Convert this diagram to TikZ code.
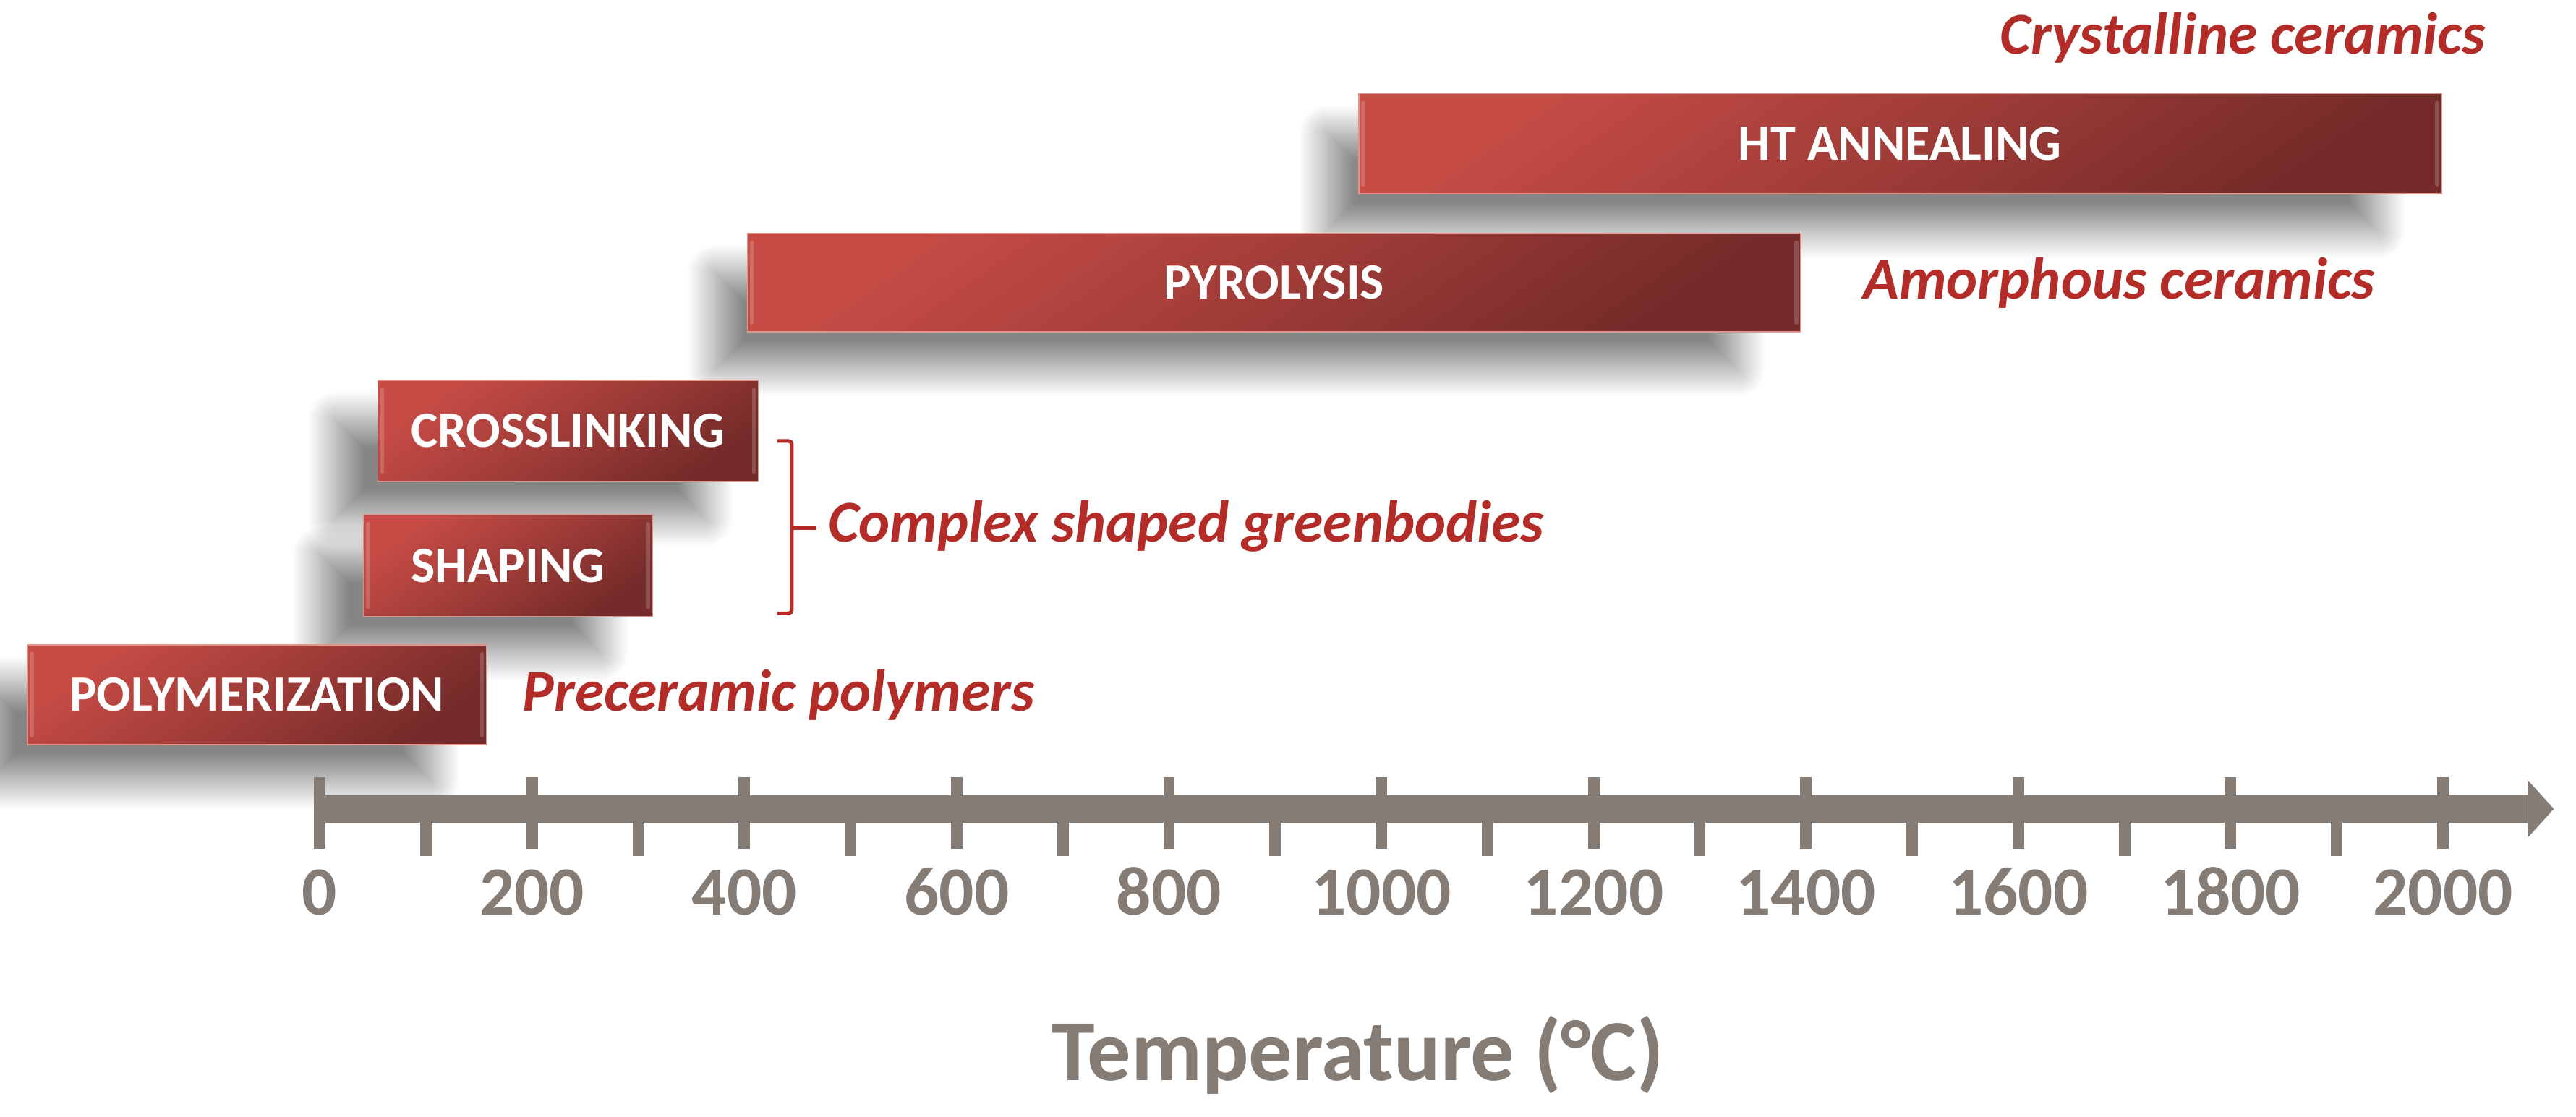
\documentclass[tikz,border=0pt]{standalone}
\usepackage{fontspec}
\setmainfont{Carlito}
\usetikzlibrary{shadows.blur}
\definecolor{boxlight}{RGB}{200,76,70}
\definecolor{boxmid}{RGB}{160,60,56}
\definecolor{boxdark}{RGB}{116,43,41}
\definecolor{boxedge}{RGB}{222,150,140}
\definecolor{labred}{RGB}{180,44,40}
\definecolor{axgray}{RGB}{132,124,117}
\begin{document}
\begin{tikzpicture}[x=1pt,y=-1pt,
  stagebox/.style={rectangle, inner sep=0pt, draw=boxedge, line width=0.7pt,
    top color=boxlight, bottom color=boxdark, middle color=boxmid, shading angle=35,
    text=white, font=\fontsize{31}{31}\selectfont\bfseries,
    blur shadow={shadow xshift=-30pt, shadow yshift=-24pt, shadow blur radius=18pt,
      shadow blur steps=30, shadow opacity=48, shadow scale=0.97}},
  bevel/.style={line width=2.5pt, draw=white, draw opacity=0.18, line cap=round},
  lab/.style={text=labred, font=\fontsize{36}{36}\selectfont\bfseries\itshape, inner sep=0pt},
  ticklab/.style={text=axgray, font=\fontsize{42}{42}\selectfont\bfseries, inner sep=0pt, anchor=base},
  axisfill/.style={fill=axgray, draw=none},
  bracket/.style={draw=labred, line width=2.2pt, rounded corners=2pt}
]
\useasboundingbox (0,0) rectangle (1568,680);

% stage boxes (top to bottom so lower ones overlay shadows)
\node[stagebox, minimum width=659pt, minimum height=61pt] (anneal) at (1156.5,87.5) {HT ANNEALING};
\node[stagebox, minimum width=641pt, minimum height=60pt] (pyro) at (775.5,172) {PYROLYSIS};
\node[stagebox, minimum width=231.6pt, minimum height=61.5pt] (cross) at (345.8,262.2) {CROSSLINKING};
\node[stagebox, minimum width=175.5pt, minimum height=62pt] (shape) at (309.25,344.3) {SHAPING};
\node[stagebox, minimum width=279.3pt, minimum height=60.8pt] (poly) at (156.35,423) {POLYMERIZATION};

\foreach \b in {anneal,pyro,cross,shape,poly}{
  \draw[bevel] ([xshift=3pt,yshift=-6pt]\b.north west) -- ([xshift=3pt,yshift=6pt]\b.south west);
  \draw[bevel] ([xshift=-3pt,yshift=-6pt]\b.north east) -- ([xshift=-3pt,yshift=6pt]\b.south east);
}

% labels
\node[lab, anchor=base east] (cryst) at (1513,33) {Crystalline ceramics};
\node[lab, anchor=base west] (amorph) at (1134,182) {Amorphous ceramics};
\node[lab, anchor=base west] (complex) at (504,330) {Complex shaped greenbodies};
\node[lab, anchor=base west] (precer) at (318,433) {Preceramic polymers};

% bracket
\coordinate (brtop) at (473,268.5);
\coordinate (brbot) at (473,373.4);
\coordinate (brmid) at (482,321.4);
\draw[bracket] (brtop) -- (482,268.5) -- (482,373.4) -- (brbot);
\draw[bracket] (brmid) -- (497,321.4);

% axis
\fill[axisfill] (191,484) rectangle (1538.6,501);
\fill[axisfill] (1538.6,475) -- (1554.5,492.5) -- (1538.6,510) -- cycle;
\foreach \t in {0,200,...,2000}{
  \fill[axisfill] ({194.6+0.6462*\t-3.5},473) rectangle ++(7,44);
  \node[ticklab] (t\t) at ({194.6+0.6462*\t},557) {\t};
}
\foreach \t in {100,300,...,1900}{
  \fill[axisfill] ({194.6+0.6462*\t-3.5},500) rectangle ++(7,21);
}

\node[text=axgray, font=\fontsize{53}{53}\selectfont\bfseries, inner sep=0pt, anchor=base west] (title) at (640,658) {Temperature (°C)};
\end{tikzpicture}
\end{document}
